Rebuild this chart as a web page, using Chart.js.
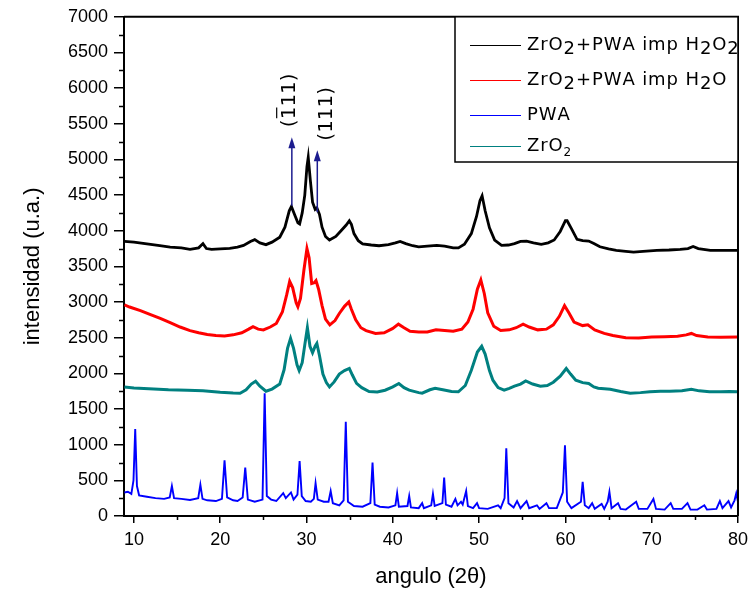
<!DOCTYPE html>
<html>
<head>
<meta charset="utf-8">
<script src="https://cdn.jsdelivr.net/npm/chart.js@4.4.1/dist/chart.umd.min.js"></script>
<style>
  html, body { margin: 0; padding: 0; background: #ffffff; }
  #wrap { width: 754px; height: 592px; }
</style>
</head>
<body>
<div id="wrap"><canvas id="xrd" width="754" height="592"></canvas></div>
<script>
// ---- Diffraction patterns: 2θ (degrees) and intensity (u.a.) ----

// ZrO2 + PWA impregnated with H2O2 (black)
const h2o2Angle = [8.9, 10, 11.5, 13, 14.2, 15.5, 16.5, 17.5, 18.0, 18.4, 19.0, 20, 21.1, 22, 22.7, 23.5, 24.0, 24.6, 25.3, 26.0, 26.9, 27.5, 28.0, 28.25, 28.6, 29.0, 29.2, 29.5, 29.8, 30.05, 30.2, 30.45, 30.7, 31.0, 31.2, 31.5, 31.8, 32.2, 32.66, 33.4, 34.0, 34.6, 34.96, 35.2, 35.5, 36.0, 36.5, 37.5, 38.4, 39.5, 40.3, 40.85, 41.5, 42.3, 43.0, 44.0, 45.1, 46.0, 47.0, 47.6, 48.3, 49.1, 49.7, 50.1, 50.35, 50.7, 51.2, 51.8, 52.6, 53.4, 54.1, 54.8, 55.5, 56.3, 57.2, 58.0, 58.7, 59.4, 60.0, 60.2, 60.7, 61.35, 62.0, 62.7, 63.3, 64.0, 65.0, 65.9, 67.0, 67.9, 69.0, 70.6, 72.0, 73.3, 74.2, 74.8, 75.4, 76.8, 78.5, 80];
const h2o2Counts = [3850, 3840, 3815, 3790, 3770, 3760, 3740, 3760, 3820, 3750, 3738, 3745, 3752, 3770, 3795, 3850, 3875, 3830, 3805, 3840, 3910, 4050, 4280, 4340, 4230, 4110, 4095, 4250, 4500, 4900, 5030, 4700, 4400, 4300, 4320, 4230, 4050, 3920, 3870, 3920, 4000, 4080, 4140, 4090, 3960, 3860, 3815, 3800, 3790, 3805, 3830, 3850, 3820, 3790, 3775, 3785, 3795, 3785, 3760, 3760, 3810, 3960, 4200, 4420, 4490, 4280, 4040, 3870, 3795, 3800, 3820, 3850, 3855, 3830, 3810, 3830, 3870, 3990, 4140, 4140, 4030, 3880, 3860, 3855, 3820, 3775, 3745, 3725, 3710, 3700, 3710, 3725, 3730, 3740, 3750, 3780, 3750, 3725, 3725, 3725];

// ZrO2 + PWA impregnated with H2O (red)
const h2oAngle = [8.9, 9.5, 10.75, 12, 13.05, 14.2, 15.35, 16.5, 17.5, 18.5, 19.5, 20.5, 21.5, 22.5, 23.3, 23.8, 24.4, 25.0, 25.8, 26.5, 27.2, 27.7, 28.05, 28.4, 28.8, 29.0, 29.3, 29.7, 30.05, 30.3, 30.6, 30.9, 31.1, 31.4, 31.8, 32.2, 32.7, 33.3, 33.8, 34.4, 34.9, 35.2, 35.7, 36.3, 36.9, 38.0, 39.0, 40.0, 40.65, 41.3, 42.0, 43.0, 44.0, 45.0, 46.0, 47.0, 48.0, 48.7, 49.3, 49.8, 50.2, 50.6, 51.0, 51.7, 52.5, 53.5, 54.3, 55.1, 55.8, 56.8, 57.8, 58.6, 59.3, 59.9, 60.4, 61.0, 62.0, 62.6, 63.4, 64.5, 65.5, 67.0, 68.5, 70.0, 71.5, 73.0, 74.0, 74.6, 75.2, 76.5, 78.0, 80];
const h2oCounts = [2960, 2930, 2880, 2820, 2770, 2710, 2650, 2600, 2570, 2545, 2530, 2525, 2540, 2570, 2620, 2655, 2620, 2610, 2650, 2700, 2860, 3100, 3290, 3200, 2990, 2935, 3050, 3450, 3750, 3620, 3260, 3270, 3300, 3180, 2950, 2760, 2680, 2740, 2840, 2940, 3000, 2900, 2750, 2640, 2600, 2560, 2570, 2630, 2690, 2640, 2590, 2580, 2580, 2610, 2600, 2590, 2620, 2720, 2900, 3180, 3310, 3120, 2850, 2660, 2600, 2610, 2640, 2690, 2650, 2610, 2620, 2680, 2800, 2950, 2850, 2720, 2670, 2680, 2610, 2560, 2530, 2500, 2495, 2510, 2515, 2520, 2540, 2560, 2530, 2510, 2505, 2510];

// Phosphotungstic acid (blue)
const pwaAngle = [8.9, 9.3, 9.7, 9.95, 10.15, 10.35, 10.6, 11.5, 12.5, 13.5, 14.15, 14.4, 14.65, 15.5, 16.5, 17.45, 17.7, 17.95, 18.5, 19.5, 20.2, 20.5, 20.8, 21.5, 22.0, 22.6, 22.9, 23.2, 24.0, 24.9, 25.15, 25.4, 25.9, 26.5, 27.3, 27.6, 28.2, 28.5, 28.95, 29.2, 29.45, 29.9, 30.5, 30.85, 31.05, 31.3, 32.0, 32.55, 32.8, 33.05, 33.8, 34.3, 34.55, 34.8, 35.5, 36.5, 37.4, 37.65, 37.9, 38.5, 39.5, 40.3, 40.5, 40.7, 41.7, 41.9, 42.1, 43.0, 43.4, 43.6, 44.45, 44.65, 44.85, 45.75, 45.95, 46.15, 46.8, 47.25, 47.5, 47.9, 48.1, 48.5, 48.7, 49.3, 49.76, 50.0, 51.0, 52.2, 52.5, 52.95, 53.15, 53.4, 54.0, 54.4, 54.8, 55.5, 55.8, 56.7, 57.0, 57.8, 58.1, 59.0, 59.7, 59.95, 60.2, 60.7, 61.8, 62.0, 62.25, 62.7, 63.1, 63.4, 64.2, 64.5, 64.9, 65.1, 65.35, 66.1, 66.4, 67.0, 68.2, 68.5, 69.5, 70.2, 70.5, 71.5, 72.2, 72.5, 73.5, 74.15, 74.5, 75.3, 76.1, 76.4, 77.5, 77.9, 78.2, 78.9, 79.2, 79.6, 79.8, 80.0];
const pwaCounts = [330, 340, 310, 500, 1220, 420, 290, 270, 250, 240, 260, 420, 250, 240, 225, 250, 440, 240, 220, 210, 240, 780, 260, 220, 210, 260, 680, 230, 200, 230, 1720, 280, 230, 210, 320, 250, 330, 230, 300, 770, 280, 210, 200, 240, 460, 230, 200, 200, 350, 180, 150, 220, 1320, 200, 140, 130, 180, 750, 160, 130, 120, 150, 320, 130, 140, 280, 120, 110, 180, 110, 150, 310, 140, 180, 540, 160, 130, 240, 150, 200, 160, 350, 140, 110, 180, 110, 100, 150, 110, 250, 950, 180, 120, 210, 110, 210, 110, 150, 100, 180, 110, 110, 330, 990, 200, 110, 200, 480, 150, 110, 180, 100, 170, 100, 200, 340, 110, 180, 100, 90, 200, 100, 100, 240, 100, 90, 180, 100, 100, 180, 90, 90, 150, 90, 100, 210, 110, 210, 120, 220, 318, 200];

// Bare zirconia (teal)
const zro2Angle = [8.9, 10, 12.3, 14, 16.2, 18, 20, 21.5, 22.3, 23.0, 23.6, 24.1, 24.6, 25.3, 26.0, 26.9, 27.4, 27.8, 28.15, 28.5, 28.9, 29.15, 29.5, 29.8, 30.1, 30.4, 30.7, 31.0, 31.2, 31.5, 31.9, 32.3, 32.66, 33.2, 33.8, 34.4, 34.96, 35.3, 35.8, 36.4, 37.25, 38.2, 39.1, 40.0, 40.7, 41.3, 41.9, 43.0, 43.4, 44.3, 44.9, 45.8, 46.8, 47.6, 48.4, 49.1, 49.8, 50.3, 50.7, 51.2, 51.6, 52.2, 52.9, 53.5, 54.1, 54.8, 55.4, 56.2, 57.1, 57.9, 58.6, 59.4, 60.1, 60.6, 61.2, 62.0, 62.7, 63.3, 63.8, 65.2, 66.4, 67.5, 68.7, 69.8, 71.0, 72.1, 73.5, 74.6, 75.5, 76.7, 78.0, 79.0, 80];
const zro2Counts = [1810, 1795, 1780, 1770, 1764, 1755, 1735, 1725, 1722, 1770, 1850, 1890, 1820, 1750, 1780, 1850, 2050, 2350, 2490, 2350, 2120, 2040, 2150, 2400, 2640, 2380, 2290, 2380, 2420, 2250, 1990, 1870, 1810, 1880, 1990, 2040, 2070, 1980, 1860, 1800, 1745, 1740, 1764, 1810, 1858, 1800, 1764, 1730, 1722, 1770, 1792, 1770, 1745, 1741, 1830, 2044, 2300, 2380, 2270, 2040, 1904, 1800, 1764, 1790, 1820, 1850, 1894, 1850, 1820, 1830, 1876, 1960, 2068, 1990, 1904, 1870, 1858, 1810, 1792, 1778, 1745, 1722, 1730, 1741, 1750, 1750, 1755, 1778, 1755, 1741, 1741, 1745, 1741];

// Axis ticks
const xTickValues = [10, 20, 30, 40, 50, 60, 70, 80];
const yTickValues = [0, 500, 1000, 1500, 2000, 2500, 3000, 3500, 4000, 4500, 5000, 5500, 6000, 6500, 7000];

// Reflection markers on the top pattern
const reflAngle = [28.3, 31.25];
const reflTip = [5310, 5130];
const reflBase = [4350, 4260];
const reflLabel = ['(111)', '(111)'];
const reflBarred = [true, false];
const reflLabelAngle = [28.05, 32.35];
const reflLabelY = [5830, 5640];

function pts(ax, ay) { return ax.map((a, i) => ({ x: a, y: ay[i] })); }

const series = [
  { name: 'h2o2', color: '#000000', width: 2.8, data: pts(h2o2Angle, h2o2Counts) },
  { name: 'h2o',  color: '#ff0000', width: 3, data: pts(h2oAngle, h2oCounts) },
  { name: 'pwa',  color: '#0000ff', width: 1.9, data: pts(pwaAngle, pwaCounts) },
  { name: 'zro2', color: '#008080', width: 3, data: pts(zro2Angle, zro2Counts) }
];

const AXIS_FONT = '"Liberation Sans", Arial, sans-serif';
const LEGEND_FONT = '"DejaVu Sans", sans-serif';

// draw a string glyph by glyph with a little extra tracking; returns the advance
function spacedText(ctx, s, x, y, track) {
  let cx = x;
  for (const ch of s) {
    ctx.fillText(ch, cx, y);
    cx += ctx.measureText(ch).width + track;
  }
  return cx - x;
}

// Frame (top/right), minor ticks, legend and reflection arrows
const decorations = {
  id: 'decorations',
  afterDatasetsDraw(chart) {
    const { ctx, chartArea: ca, scales } = chart;
    const xs = scales.x, ys = scales.y;
    ctx.save();

    // closing frame
    ctx.strokeStyle = '#000';
    ctx.lineWidth = 2;
    ctx.beginPath();
    ctx.moveTo(ca.left, ca.top);
    ctx.lineTo(ca.right, ca.top);
    ctx.lineTo(ca.right, ca.bottom);
    ctx.stroke();

    // minor ticks
    ctx.lineWidth = 1.5;
    ctx.beginPath();
    for (let i = 0; i < yTickValues.length - 1; i++) {
      const v = (yTickValues[i] + yTickValues[i + 1]) / 2;
      const py = Math.round(ys.getPixelForValue(v)) + 0.5;
      ctx.moveTo(ca.left - 5, py);
      ctx.lineTo(ca.left, py);
    }
    for (let i = 0; i < xTickValues.length - 1; i++) {
      const v = (xTickValues[i] + xTickValues[i + 1]) / 2;
      const px = Math.round(xs.getPixelForValue(v)) + 0.5;
      ctx.moveTo(px, ca.bottom);
      ctx.lineTo(px, ca.bottom + 4);
    }
    ctx.stroke();

    // reflection arrows
    const navy = '#1c1c8f';
    for (let i = 0; i < reflAngle.length; i++) {
      const px = xs.getPixelForValue(reflAngle[i]);
      const tip = ys.getPixelForValue(reflTip[i]);
      const base = ys.getPixelForValue(reflBase[i]);
      ctx.strokeStyle = navy;
      ctx.lineWidth = 1.5;
      ctx.beginPath();
      ctx.moveTo(px, base);
      ctx.lineTo(px, tip + 8);
      ctx.stroke();
      ctx.fillStyle = navy;
      ctx.beginPath();
      ctx.moveTo(px, tip);
      ctx.lineTo(px - 3.5, tip + 11);
      ctx.lineTo(px + 3.5, tip + 11);
      ctx.closePath();
      ctx.fill();

      // rotated Miller index label
      const lx = xs.getPixelForValue(reflLabelAngle[i]);
      const ly = ys.getPixelForValue(reflLabelY[i]);
      ctx.save();
      ctx.translate(lx, ly);
      ctx.rotate(-Math.PI / 2);
      ctx.font = '20px ' + LEGEND_FONT;
      ctx.fillStyle = '#000';
      ctx.textAlign = 'left';
      ctx.textBaseline = 'middle';
      const txt = reflLabel[i];
      const w = ctx.measureText(txt).width;
      ctx.fillText(txt, -w / 2, 0);
      if (reflBarred[i]) {
        const w0 = ctx.measureText('(').width;
        const w1 = ctx.measureText('1').width;
        ctx.strokeStyle = '#000';
        ctx.lineWidth = 1.2;
        ctx.beginPath();
        ctx.moveTo(-w / 2 + w0 + 1, -13);
        ctx.lineTo(-w / 2 + w0 + w1 - 1, -13);
        ctx.stroke();
      }
      ctx.restore();
    }

    // legend
    const lg = { left: 455, top: ca.top, right: ca.right, bottom: 162 };
    ctx.fillStyle = '#fff';
    ctx.fillRect(lg.left, lg.top, lg.right - lg.left, lg.bottom - lg.top);
    ctx.strokeStyle = '#000';
    ctx.lineWidth = 1.5;
    ctx.strokeRect(lg.left, lg.top, lg.right - lg.left, lg.bottom - lg.top);

    const rows = [
      { color: '#000000', y: 45, parts: [['ZrO', 0], ['2', 1], ['+PWA imp H', 0], ['2', 1], ['O', 0], ['2', 1]] },
      { color: '#ff0000', y: 80, parts: [['ZrO', 0], ['2', 1], ['+PWA imp H', 0], ['2', 1], ['O', 0]] },
      { color: '#0000ff', y: 115, parts: [['PWA', 0]] },
      { color: '#008080', y: 146, parts: [['ZrO', 0], ['2', 2]] }
    ];
    ctx.textAlign = 'left';
    ctx.textBaseline = 'middle';
    const track = 0.9;
    rows.forEach(r => {
      ctx.strokeStyle = r.color;
      ctx.lineWidth = 1;
      ctx.beginPath();
      ctx.moveTo(470, r.y + 0.5);
      ctx.lineTo(521, r.y + 0.5);
      ctx.stroke();
      let tx = 527;
      ctx.fillStyle = '#000';
      r.parts.forEach(([s, kind]) => {
        if (kind === 2) {
          ctx.font = '12px ' + LEGEND_FONT;
          tx += spacedText(ctx, s, tx, r.y + 7, track);
        } else if (kind === 1) {
          ctx.font = '18px ' + LEGEND_FONT;
          tx += spacedText(ctx, s, tx, r.y + 4, track);
        } else {
          ctx.font = '18px ' + LEGEND_FONT;
          tx += spacedText(ctx, s, tx, r.y, track);
        }
      });
    });
    ctx.restore();
  }
};

new Chart(document.getElementById('xrd'), {
  type: 'line',
  data: {
    datasets: series.map(s => ({
      label: s.name,
      data: s.data,
      borderColor: s.color,
      borderWidth: s.width,
      pointRadius: 0,
      tension: 0,
      fill: false
    }))
  },
  options: {
    responsive: false,
    devicePixelRatio: 1,
    animation: false,
    layout: { padding: { left: 0, right: 10, top: 16, bottom: 0 } },
    plugins: { legend: { display: false }, tooltip: { enabled: false } },
    scales: {
      x: {
        type: 'linear',
        min: 8.85,
        max: 80,
        afterFit(scale) { scale.height = 76; },
        afterBuildTicks(scale) { scale.ticks = xTickValues.map(v => ({ value: v })); },
        ticks: {
          color: '#000',
          font: { family: AXIS_FONT, size: 18 },
          padding: 6,
          maxRotation: 0,
          autoSkip: false,
          callback: v => String(v)
        },
        grid: { display: true, drawOnChartArea: false, drawTicks: true, tickLength: 7, color: '#000', lineWidth: 1.5 },
        border: { display: true, color: '#000', width: 2 },
        title: {
          display: true,
          text: 'angulo (2θ)',
          color: '#000',
          font: { family: AXIS_FONT, size: 22 },
          padding: { top: 0, bottom: 2 }
        }
      },
      y: {
        type: 'linear',
        min: 0,
        max: 7000,
        afterFit(scale) { scale.width = 124; },
        afterBuildTicks(scale) { scale.ticks = yTickValues.map(v => ({ value: v })); },
        ticks: {
          color: '#000',
          font: { family: AXIS_FONT, size: 18 },
          padding: 6,
          autoSkip: false,
          callback: v => String(v)
        },
        grid: { display: true, drawOnChartArea: false, drawTicks: true, tickLength: 10, color: '#000', lineWidth: 1.5 },
        border: { display: true, color: '#000', width: 2 },
        title: {
          display: true,
          text: 'intensidad (u.a.)',
          color: '#000',
          font: { family: AXIS_FONT, size: 22 },
          padding: { top: 20, bottom: 0 }
        }
      }
    }
  },
  plugins: [decorations]
});
</script>
</body>
</html>
